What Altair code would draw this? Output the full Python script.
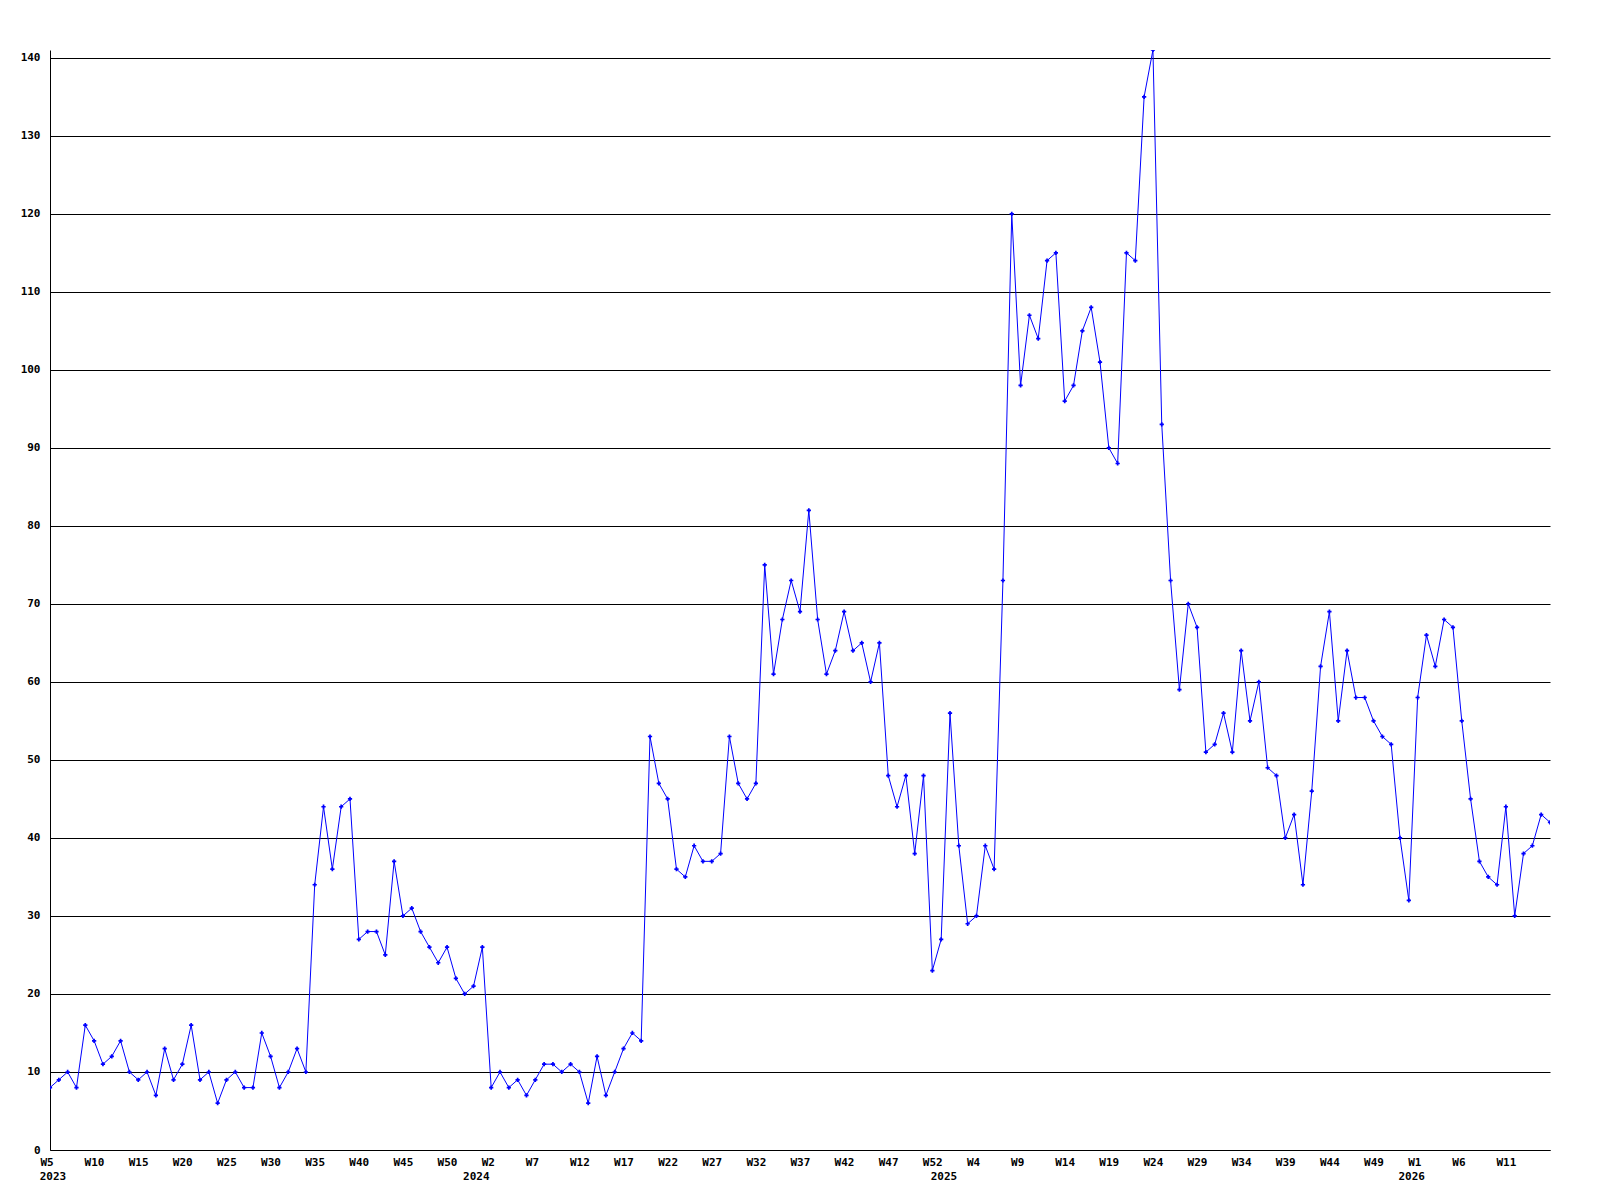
import json
import altair as alt
import pandas as pd

# weekly counts, starting 2023 W5
values = [
    8, 9, 10, 8, 16, 14, 11, 12, 14, 10,
    9, 10, 7, 13, 9, 11, 16, 9, 10, 6,
    9, 10, 8, 8, 15, 12, 8, 10, 13, 10,
    34, 44, 36, 44, 45, 27, 28, 28, 25, 37,
    30, 31, 28, 26, 24, 26, 22, 20, 21, 26,
    8, 10, 8, 9, 7, 9, 11, 11, 10, 11,
    10, 6, 12, 7, 10, 13, 15, 14, 53, 47,
    45, 36, 35, 39, 37, 37, 38, 53, 47, 45,
    47, 75, 61, 68, 73, 69, 82, 68, 61, 64,
    69, 64, 65, 60, 65, 48, 44, 48, 38, 48,
    23, 27, 56, 39, 29, 30, 39, 36, 73, 120,
    98, 107, 104, 114, 115, 96, 98, 105, 108, 101,
    90, 88, 115, 114, 135, 141, 93, 73, 59, 70,
    67, 51, 52, 56, 51, 64, 55, 60, 49, 48,
    40, 43, 34, 46, 62, 69, 55, 64, 58, 58,
    55, 53, 52, 40, 32, 58, 66, 62, 68, 67,
    55, 45, 37, 35, 34, 44, 30, 38, 39, 43,
    42,
]

# week ranges per year (first week, last week)
year_weeks = [(2023, 5, 53), (2024, 1, 53), (2025, 1, 53), (2026, 1, 16)]
y_ticks = list(range(0, 141, 10))

week_labels = []
week_years = []
for yr, w0, w1 in year_weeks:
    for w in range(w0, w1 + 1):
        week_labels.append("W%d" % w)
        week_years.append(yr)

n = len(values)
df = pd.DataFrame({"idx": list(range(n)), "value": values,
                   "week": week_labels[:n], "year": week_years[:n]})

years_df = (df.groupby("year", as_index=False)["idx"].min())
years_df["label"] = years_df["year"].astype(str)

FONT = "DejaVu Sans Mono"
BLUE = "#0000ff"

x_scale = alt.Scale(domain=[0, n - 1], nice=False, zero=False)
y_scale = alt.Scale(domain=[0, 141], nice=False)

label_expr = "%s[datum.value]" % json.dumps(week_labels[:n])

x_axis = alt.Axis(values=list(range(0, n - 1, 5)), labelExpr=label_expr,
                  title=None, grid=False, tickSize=0, domainColor="black",
                  domainWidth=1, labelAlign="left", labelOffset=-10,
                  labelBaseline="top", labelPadding=6, labelFont=FONT,
                  labelFontSize=11, labelFontWeight="bold",
                  labelColor="black", labelOverlap=False, labelFlush=False)
y_axis = alt.Axis(values=y_ticks, title=None, grid=True, gridColor="black",
                  gridOpacity=1, gridWidth=1, tickSize=0, domainColor="black",
                  domainWidth=1, labelPadding=10, labelFont=FONT,
                  labelFontSize=11, labelFontWeight="bold",
                  labelColor="black")

base = alt.Chart(df).encode(
    x=alt.X("idx:Q", scale=x_scale, axis=x_axis),
    y=alt.Y("value:Q", scale=y_scale, axis=y_axis),
)

line = base.mark_line(color=BLUE, strokeWidth=1, clip=True)
pts = base.mark_point(shape="cross", filled=True, size=18, color=BLUE,
                      opacity=1, clip=True)

year_text = dict(font=FONT, fontSize=11, fontWeight="bold", color="black",
                 align="center", baseline="top")
year_enc = dict(x=alt.X("idx:Q", scale=x_scale), y=alt.value(1121),
                text="label:N")

first_year = alt.Chart(years_df).transform_filter("datum.idx == 0").mark_text(
    dx=3, **year_text).encode(**year_enc)
other_years = alt.Chart(years_df).transform_filter("datum.idx > 0").mark_text(
    dx=-6, **year_text).encode(**year_enc)

chart = alt.layer(line, pts, first_year, other_years).properties(
    width=1500, height=1100,
    background="white",
    autosize=alt.AutoSizeParams(type="none"),
    padding={"left": 42, "top": 42, "right": 30, "bottom": 45},
).configure_view(strokeWidth=0, stroke="transparent")

chart.save("out.html", embed_options={"renderer": "svg", "actions": False})
